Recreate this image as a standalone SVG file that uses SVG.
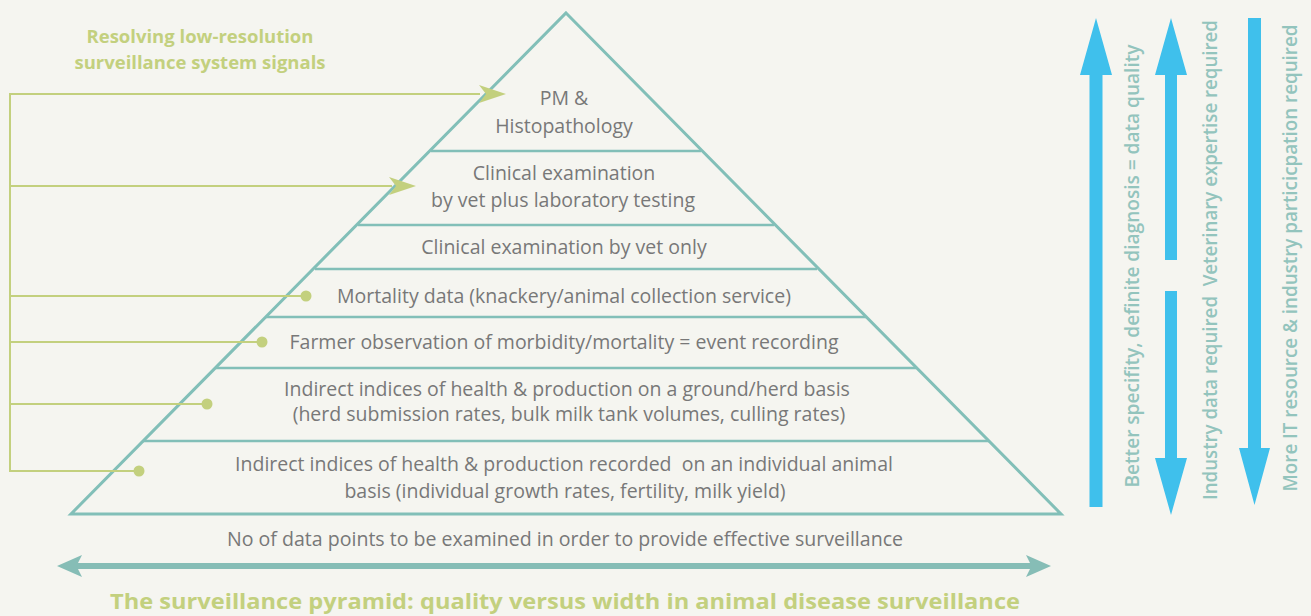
<svg xmlns="http://www.w3.org/2000/svg" width="1311" height="616" viewBox="0 0 1311 616">
<style>
.bg{fill:#f5f5f0}
.pyr{fill:none;stroke:#82bfb8;stroke-width:3;stroke-linejoin:miter}
.tier{stroke:#82bfb8;stroke-width:2.5}
.lbl{font-family:"Open Sans","Liberation Sans",sans-serif;font-size:19.5px;fill:#787878;text-anchor:middle}
.conn{stroke:#c3d07e;stroke-width:2;fill:none}
.gfill{fill:#c3d07e}
.green{font-family:"Open Sans","Liberation Sans",sans-serif;font-weight:700;fill:#c3d07e;text-anchor:middle}
.blue{fill:#3fc0ec}
.vt{font-family:"Open Sans","Liberation Sans",sans-serif;font-size:19.5px;font-weight:600;fill:#93c4bd;text-anchor:middle}
</style>
<rect class="bg" x="0" y="0" width="1311" height="616"/>
<g id="pyramid">
<polygon class="pyr" points="566,13 1061,514 71,514"/>
<line class="tier" x1="431" y1="151" x2="701" y2="151"/>
<line class="tier" x1="358" y1="225" x2="774" y2="225"/>
<line class="tier" x1="315" y1="269" x2="817" y2="269"/>
<line class="tier" x1="266" y1="317" x2="866" y2="317"/>
<line class="tier" x1="216" y1="368" x2="916" y2="368"/>
<line class="tier" x1="143" y1="441" x2="989" y2="441"/>
</g>
<g id="tier1"><text class="lbl" x="564" y="105">PM &amp;</text><text class="lbl" x="564" y="133">Histopathology</text></g>
<g id="tier2"><text class="lbl" x="564" y="180">Clinical examination</text><text class="lbl" x="563" y="207">by vet plus laboratory testing</text></g>
<g id="tier3"><text class="lbl" x="564" y="254">Clinical examination by vet only</text></g>
<g id="tier4"><text class="lbl" x="564" y="303">Mortality data (knackery/animal collection service)</text></g>
<g id="tier5"><text class="lbl" x="564" y="349">Farmer observation of morbidity/mortality = event recording</text></g>
<g id="tier6"><text class="lbl" x="567" y="396">Indirect indices of health &amp; production on a ground/herd basis</text><text class="lbl" x="569" y="421">(herd submission rates, bulk milk tank volumes, culling rates)</text></g>
<g id="tier7"><text class="lbl" x="564" y="471" xml:space="preserve">Indirect indices of health &amp; production recorded  on an individual animal</text><text class="lbl" x="565" y="498">basis (individual growth rates, fertility, milk yield)</text></g>
<g id="resolving-label"><text class="green" x="200" y="43" font-size="18.5">Resolving low-resolution</text><text class="green" x="200" y="69" font-size="18.5">surveillance system signals</text></g>
<g id="connectors">
<polyline class="conn" points="480,94 10,94 10,471 139,471"/>
<line class="conn" x1="10" y1="186" x2="392" y2="186"/>
<line class="conn" x1="10" y1="296" x2="306" y2="296"/>
<line class="conn" x1="10" y1="342" x2="262" y2="342"/>
<line class="conn" x1="10" y1="404" x2="207" y2="404"/>
<polygon class="gfill" points="506,94 479,85 486,94 479,103"/>
<polygon class="gfill" points="416,186 389,177 396,186 389,195"/>
<circle class="gfill" cx="306" cy="296" r="5.5"/>
<circle class="gfill" cx="262" cy="342" r="5.5"/>
<circle class="gfill" cx="207" cy="404" r="5.5"/>
<circle class="gfill" cx="139" cy="471" r="5.5"/>
</g>
<g id="width-axis">
<text class="lbl" x="565" y="546" font-size="18" textLength="676" lengthAdjust="spacingAndGlyphs">No of data points to be examined in order to provide effective surveillance</text>
<polygon fill="#86bdb6" points="57,566 82,555 78,563 1030,563 1026,555 1051,566 1026,577 1030,569 78,569 82,577"/>
</g>
<g id="title"><text class="green" x="565" y="609" font-size="22" textLength="910" lengthAdjust="spacingAndGlyphs">The surveillance pyramid: quality versus width in animal disease surveillance</text></g>
<g id="arrow-quality">
<polygon class="blue" points="1096,18 1112,75 1102.5,75 1102.5,507 1089.5,507 1089.5,75 1080,75"/>
<text class="vt" transform="translate(1139,266) rotate(-90)" textLength="443" lengthAdjust="spacingAndGlyphs">Better specifity, definite diagnosis = data quality</text>
</g>
<g id="arrow-expertise">
<polygon class="blue" points="1171,18 1187,75 1177,75 1177,260 1165,260 1165,75 1155,75"/>
<polygon class="blue" points="1171,515 1187,458 1177,458 1177,291 1165,291 1165,458 1155,458"/>
<text class="vt" transform="translate(1217,260) rotate(-90)" textLength="480" lengthAdjust="spacingAndGlyphs" xml:space="preserve">Industry data required  Veterinary expertise required</text>
</g>
<g id="arrow-it">
<polygon class="blue" points="1254.5,505 1270,448 1261,448 1261,18 1248,18 1248,448 1239,448"/>
<text class="vt" transform="translate(1297,258) rotate(-90)" textLength="467" lengthAdjust="spacingAndGlyphs">More IT resource &amp; industry particicpation required</text>
</g>
</svg>
